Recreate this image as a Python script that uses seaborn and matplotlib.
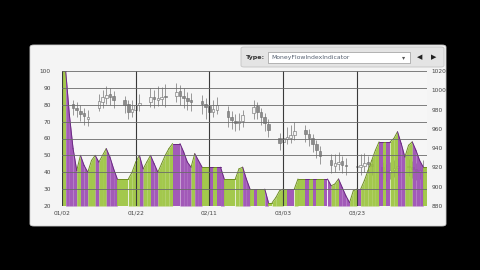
import numpy as np
import pandas as pd
import matplotlib
matplotlib.use("Agg")
import matplotlib.pyplot as plt
import seaborn as sns
from matplotlib.patches import FancyBboxPatch

# ---------------- data ----------------
start_date = "2009-01-02"
end_date = "2009-04-10"

# Money Flow Index, one value per calendar day from 01/02
mfi = [100, 100, 74, 54, 41, 50, 44, 40, 47, 50,
       46, 50, 54, 49, 42, 36, 36, 36, 36, 40,
       46, 50, 42, 46, 50, 45, 40, 45, 50, 54,
       57, 57, 57, 52, 46, 43, 51, 47, 43, 43,
       43, 43, 43, 43, 36, 36, 36, 36, 42, 43,
       36, 30, 30, 30, 30, 30, 22, 22, 25, 29,
       30, 30, 30, 30, 36, 36, 36, 36, 36, 36,
       36, 36, 36, 32, 33, 36, 31, 26, 22, 29,
       30, 30, 35, 41, 47, 53, 58, 58, 58, 58,
       60, 64, 57, 49, 56, 58, 53, 47, 43, 43]
# money flow direction of each session (g = positive, p = negative)
flow = list("gpppgppggp" "ggpppggggg" "gpggppgggg" "pppppgppgg" "pgppgggggp"
            "pgpggpgggg" "gppgggpgpg" "gppggpppgg" "pgggggpgpg" "gppggpppg")

# OHLC prices, one per trading day
opens = [980, 986, 982, 979, 976, 970, 982, 988, 992, 996, 994,
         990, 986, 978, 980, 985, 988, 993, 990, 991, 994,
         994, 999, 994, 992, 990, 989, 986, 984, 978, 980,
         978, 972, 968, 966, 968, 976, 984, 977, 972, 965,
         950, 946, 950, 951, 954, 959, 955, 950, 944, 937,
         928, 922, 924, 927, 923, 920, 920, 922, 926, 924,
         920, 916, 914, 917, 919, 922, 920, 918, 915, 917]
highs = [992, 990, 988, 985, 982, 980, 996, 1000, 1004, 1002, 999,
         994, 990, 990, 994, 996, 1002, 1000, 1004, 1003, 1006,
         1008, 1005, 1002, 998, 997, 995, 992, 988, 990, 993,
         984, 978, 975, 976, 980, 990, 988, 982, 976, 970,
         956, 958, 962, 964, 967, 964, 960, 955, 948, 942,
         934, 934, 936, 932, 930, 930, 934, 935, 932, 929,
         926, 924, 926, 928, 930, 929, 927, 925, 926, 928]
lows = [975, 974, 972, 968, 964, 963, 978, 982, 986, 985, 982,
        976, 970, 972, 976, 978, 983, 982, 984, 985, 983,
        988, 985, 982, 980, 978, 975, 970, 966, 972, 975,
        962, 960, 958, 959, 962, 970, 970, 964, 958, 952,
        938, 940, 944, 945, 948, 946, 942, 936, 930, 924,
        914, 915, 917, 914, 912, 910, 912, 915, 914, 912,
        908, 906, 908, 910, 912, 911, 909, 907, 908, 910]
closes = [985, 982, 980, 975, 973, 972, 989, 993, 995, 993, 990,
          985, 978, 981, 985, 987, 993, 991, 992, 993, 993,
          998, 994, 992, 989, 988, 986, 983, 978, 981, 985,
          972, 969, 966, 968, 974, 983, 977, 972, 966, 959,
          945, 950, 952, 954, 958, 955, 951, 944, 938, 932,
          923, 925, 926, 923, 922, 921, 923, 925, 924, 921,
          916, 915, 917, 919, 921, 920, 918, 916, 917, 919]

mfi_ticks = [20, 30, 40, 50, 60, 70, 80, 90, 100]
price_ticks = [880, 900, 920, 940, 960, 980, 1000, 1020]
date_tick_days = [0, 20, 40, 60, 80]
indicator_name = "MoneyFlowIndexIndicator"

# ---------------- derived ----------------
t0 = pd.Timestamp(start_date)
trade_days = np.array([(d - t0).days for d in pd.bdate_range(start_date, end_date)])
o = np.array(opens); h = np.array(highs); l = np.array(lows); c = np.array(closes)
date_labels = [(t0 + pd.Timedelta(days=int(d))).strftime("%m/%d") for d in date_tick_days]

GREEN = "#9cc43f"
PURPLE = "#9b4db3"
DGREEN = "#6f8f22"
DPURPLE = "#6a2a82"

sns.set_theme(style="white")
plt.rcParams["font.family"] = ["DejaVu Sans"]

W, H = 480, 270
fig = plt.figure(figsize=(4.8, 2.7), dpi=100, facecolor="black")

def fx(px):
    return px / W

def fy(py):
    return 1 - py / H

# panel
fig.patches.append(FancyBboxPatch((fx(30), fy(226)), fx(416), 181 / H,
                                  boxstyle="round,pad=0,rounding_size=0.008",
                                  transform=fig.transFigure, facecolor="#f4f4f4",
                                  edgecolor="#d0d0d0", lw=0.6, zorder=-3))
# toolbar
fig.patches.append(FancyBboxPatch((fx(241), fy(67)), fx(203), 20 / H,
                                  boxstyle="round,pad=0,rounding_size=0.006",
                                  transform=fig.transFigure, facecolor="#e4e4e4",
                                  edgecolor="#c4c4c4", lw=0.6, zorder=-2))
fig.patches.append(FancyBboxPatch((fx(268), fy(63)), fx(142), 11 / H,
                                  boxstyle="square,pad=0",
                                  transform=fig.transFigure, facecolor="white",
                                  edgecolor="#9a9a9a", lw=0.5, zorder=-1))
fig.text(fx(246), fy(57.5), "Type:", fontsize=4.6, fontweight="bold", color="#333333",
         va="center", ha="left")
fig.text(fx(271), fy(57.5), indicator_name, fontsize=4.4, color="#556070",
         va="center", ha="left")
fig.text(fx(404), fy(57.5), "▾", fontsize=4.5, color="#555555", va="center", ha="center")
fig.text(fx(420), fy(57.5), "◀", fontsize=5, color="#222222", va="center", ha="center")
fig.text(fx(434), fy(57.5), "▶", fontsize=5, color="#222222", va="center", ha="center")

# axes
ax = fig.add_axes([fx(62), fy(206), fx(365), 135 / H])
ax2 = ax.twinx()
ax2.set_zorder(1)
ax.set_zorder(2)
ax.patch.set_visible(False)
ax2.patch.set_visible(True)
ax2.patch.set_facecolor("#f6f6f6")

# candles (price axis, right)
up = c >= o
ax2.vlines(trade_days, l, h, color="#8a8a8a", lw=0.6, zorder=2)
ax2.bar(trade_days, np.maximum(np.abs(c - o), 0.8), bottom=np.minimum(o, c), width=0.7,
        color=np.where(up, "#f4f4f4", "#8c8c8c"), edgecolor="#6e6e6e", lw=0.4, zorder=3)
ax2.set_ylim(880, 1020)
ax2.set_yticks(price_ticks)
ax2.set_yticklabels([str(v) for v in price_ticks])
ax2.tick_params(axis="y", length=0, pad=3, labelsize=4.2, colors="#444444")

# MFI area (left axis)
for i in range(len(mfi) - 1):
    col = GREEN if flow[i] == "g" else PURPLE
    ax.fill_between([i, i + 1], [mfi[i], mfi[i + 1]], 20, color=col, lw=0,
                    alpha=0.92, zorder=1)
seg = pd.DataFrame({
    "day": np.concatenate([[i, i + 1] for i in range(len(mfi) - 1)]),
    "mfi": np.concatenate([[mfi[i], mfi[i + 1]] for i in range(len(mfi) - 1)]),
    "unit": np.repeat(np.arange(len(mfi) - 1), 2),
    "flow": np.repeat(flow, 2),
})
sns.lineplot(data=seg, x="day", y="mfi", units="unit", hue="flow", estimator=None,
             palette={"g": DGREEN, "p": DPURPLE}, lw=0.7, legend=False, ax=ax, zorder=2)

ax.set_xlim(0, len(mfi) - 1)
ax.set_ylim(20, 100)
ax.set_yticks(mfi_ticks)
ax.set_yticklabels([str(v) for v in mfi_ticks])
ax.set_xticks(date_tick_days)
ax.set_xticklabels(date_labels)
ax.set_xlabel("")
ax.set_ylabel("")
ax.tick_params(axis="y", length=0, pad=8, labelsize=4.2, colors="#444444")
ax.tick_params(axis="x", length=0, pad=3, labelsize=4.2, colors="#444444")
ax.set_axisbelow(False)
ax.yaxis.grid(True, color="#6a6a6a", lw=0.6)
ax.xaxis.grid(True, color="#3a3a3a", lw=0.8)
for a in (ax, ax2):
    for s in a.spines.values():
        s.set_visible(False)

fig.savefig("out.png", dpi=100, facecolor="black")
